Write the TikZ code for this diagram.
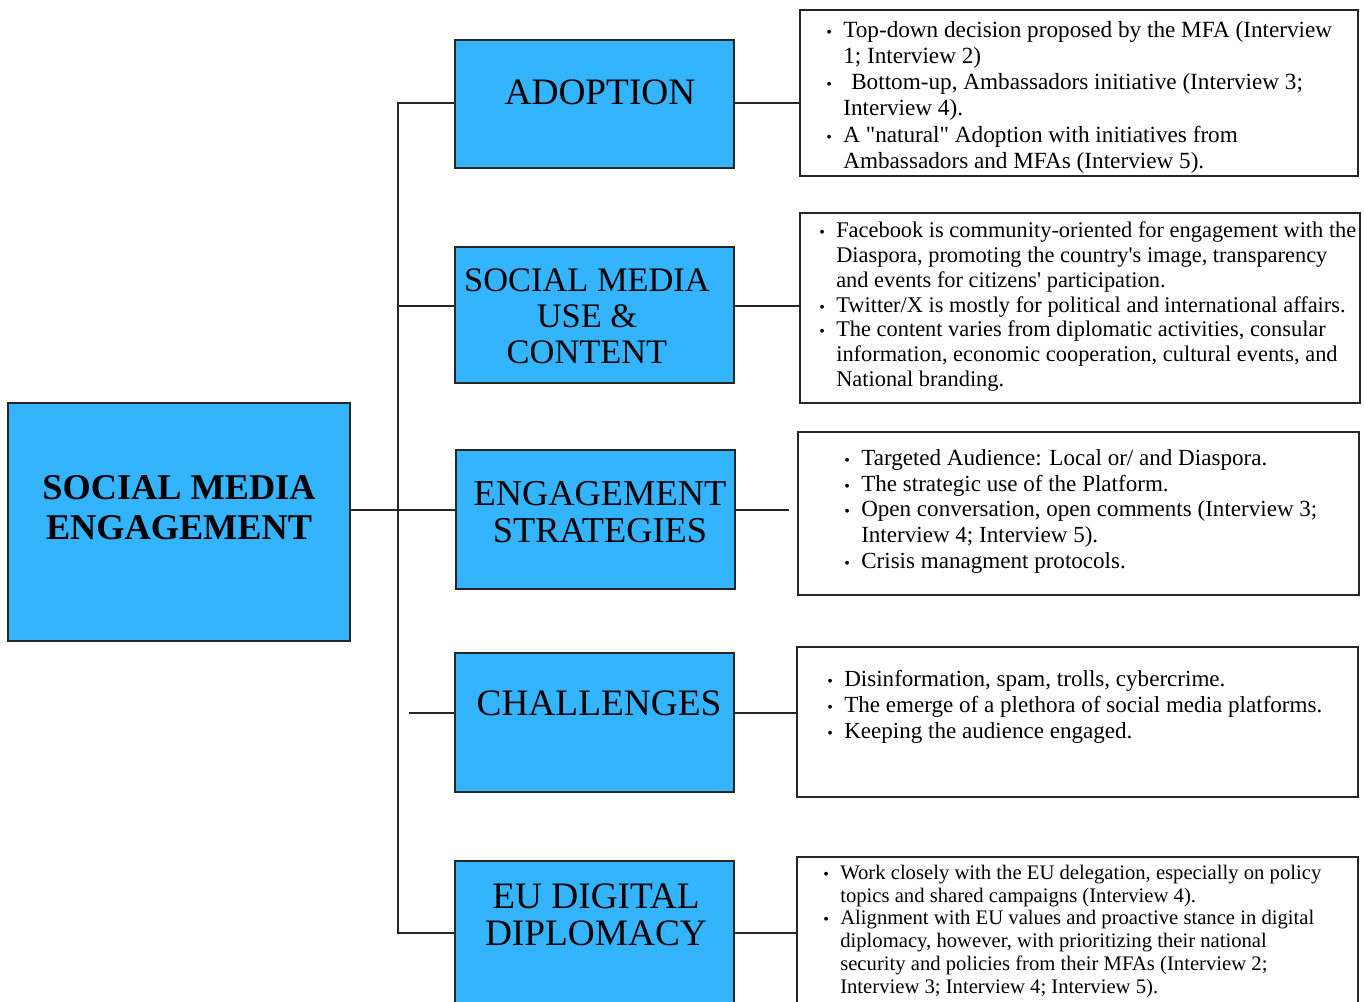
\documentclass[tikz,border=0pt]{standalone}
\usepackage{fontspec}
\setmainfont{Liberation Serif}[Ligatures=TeXOff]
\usetikzlibrary{positioning,fit,calc}
\definecolor{boxblue}{RGB}{52,180,253}
\tikzstyle{mbox}=[rectangle, draw=black!85, fill=boxblue, line width=1.3pt, inner sep=0pt]
\tikzstyle{tbox}=[rectangle, draw=black!85, fill=white, line width=1.3pt, inner sep=0pt]
\tikzstyle{mtxt}=[inner sep=0pt, align=center, font=\fontsize{28}{27.7}\selectfont]
\tikzstyle{btxt}=[inner sep=0pt, align=left, anchor=north west]
\tikzstyle{pline}=[-, line width=1.2pt, draw=black!85]
\newcommand{\bul}{\strut\makebox[0pt][c]{\fontsize{12}{12}\selectfont\textbullet}\hspace{10.5pt}}
\newcommand{\ind}{\strut\hspace*{10.5pt}}
\begin{document}
\begin{tikzpicture}[x=0.75pt, y=-0.75pt]
\useasboundingbox (0,0) rectangle (1364,1002);
% main topic
\node (ROOT) [mbox, fit={(8,403) (350,641)}] {};
\node (ROOTL) [mtxt, font=\bfseries\fontsize{27.2}{30}\selectfont] at (179,508) {SOCIAL MEDIA\\ENGAGEMENT};
% themes
\node (ADO) [mbox, fit={(455,40) (734,168)}] {};
\node (ADOL) [mtxt] at (600,92) {ADOPTION};
\node (SMU) [mbox, fit={(455,247) (734,383)}] {};
\node (SMUL) [mtxt, font=\fontsize{25.8}{27}\selectfont] at (587,316) {SOCIAL MEDIA\\USE \&\\CONTENT};
\node (ENG) [mbox, fit={(456,450) (735,589)}] {};
\node (ENGL) [mtxt, font=\fontsize{27.3}{27.7}\selectfont] at (600,512.5) {ENGAGEMENT\\STRATEGIES};
\node (CHA) [mbox, fit={(455,653) (734,792)}] {};
\node (CHAL) [mtxt] at (599,703) {CHALLENGES};
\node (EUD) [mbox, fit={(455,861) (734,1012)}] {};
\node (EUDL) [mtxt] at (596,914.5) {EU DIGITAL\\DIPLOMACY};
% findings
\node (ADOR) [tbox, fit={(800,10) (1358,176)}] {};
\node (ADOT) [btxt, font=\fontsize{17.4}{19.65}\selectfont] at (829,18.7) {%
\bul Top-down decision proposed by the MFA (Interview\\
\ind 1; Interview 2)\\
\bul\hspace{6pt}Bottom-up, Ambassadors initiative (Interview 3;\\
\ind Interview 4).\\
\bul A "natural" Adoption with initiatives from\\
\ind Ambassadors and MFAs (Interview 5).};
\node (SMUR) [tbox, fit={(800,213) (1360,403)}] {};
\node (SMUT) [btxt, font=\fontsize{16.8}{18.7}\selectfont] at (822,219.5) {%
\bul Facebook is community-oriented for engagement with the\\
\ind Diaspora, promoting the country's image, transparency\\
\ind and events for citizens' participation.\\
\bul Twitter/X is mostly for political and international affairs.\\
\bul The content varies from diplomatic activities, consular\\
\ind information, economic cooperation, cultural events, and\\
\ind National branding.};
\node (ENGR) [tbox, fit={(798,432) (1359,595)}] {};
\node (ENGT) [btxt, font=\fontsize{17.3}{19.3}\selectfont] at (847,447) {%
\bul Targeted Audience: Local or/ and Diaspora.\\
\bul The strategic use of the Platform.\\
\bul Open conversation, open comments (Interview 3;\\
\ind Interview 4; Interview 5).\\
\bul Crisis managment protocols.};
\node (CHAR) [tbox, fit={(797,647) (1358,797)}] {};
\node (CHAT) [btxt, font=\fontsize{17.3}{19.5}\selectfont] at (830,667.8) {%
\bul Disinformation, spam, trolls, cybercrime.\\
\bul The emerge of a plethora of social media platforms.\\
\bul Keeping the audience engaged.};
\node (EUDR) [tbox, fit={(797,857) (1358,1012)}] {};
\node (EUDT) [btxt, font=\fontsize{15.5}{17.1}\selectfont] at (826,863) {%
\bul Work closely with the EU delegation, especially on policy\\
\ind topics and shared campaigns (Interview 4).\\
\bul Alignment with EU values and proactive stance in digital\\
\ind diplomacy, however, with prioritizing their national\\
\ind security and policies from their MFAs (Interview 2;\\
\ind Interview 3; Interview 4; Interview 5).};
% connectors
\coordinate (R1) at (398,103);
\coordinate (R2) at (398,306);
\coordinate (R3) at (398,510);
\coordinate (R4) at (398,713);
\coordinate (R5) at (398,933);
\draw[pline] (ADO.west |- R1) -- (R1) -- (R5) -- (EUD.west |- R5);
\draw[pline] (R2) -- (SMU.west |- R2);
\draw[pline] (ROOT.east |- R3) -- (ENG.west |- R3);
\draw[pline] ($(R4)+(11,0)$) -- (CHA.west |- R4);
\draw[pline] (ADO.east |- R1) -- (ADOR.west |- R1);
\draw[pline] (SMU.east |- R2) -- (SMUR.west |- R2);
\draw[pline] (ENG.east |- R3) -- ($(ENGR.west |- R3)+(-8,0)$);
\draw[pline] (CHA.east |- R4) -- (CHAR.west |- R4);
\draw[pline] (EUD.east |- R5) -- (EUDR.west |- R5);
\end{tikzpicture}
\end{document}
